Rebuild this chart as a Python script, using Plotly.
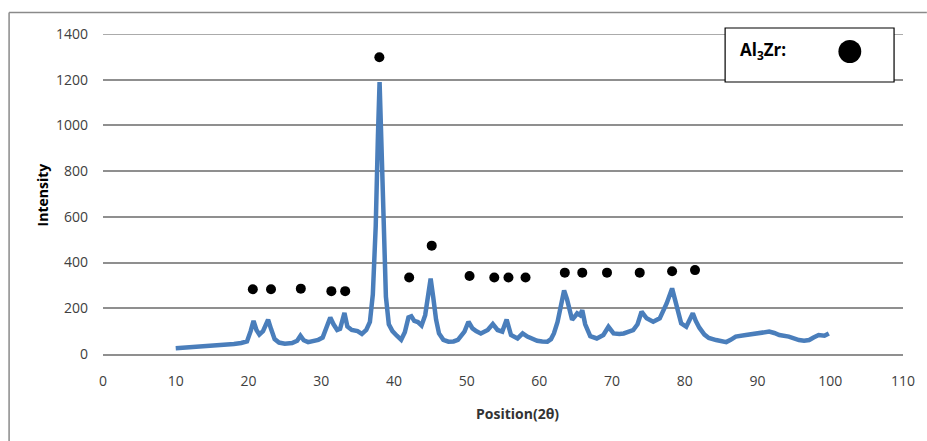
import plotly.graph_objects as go

# XRD pattern (2theta, intensity)
two_theta = [10.0, 11, 12, 13, 14, 15, 16, 17, 18, 19, 19.8, 20.3, 20.7, 21.1, 21.5, 22.0, 22.4, 22.7,
             23.1, 23.6, 24.2, 25.0, 26.0, 26.7, 27.15, 27.6, 28.2, 29.0, 29.6, 30.2, 30.8, 31.25,
             31.7, 32.2, 32.6, 33.2, 33.6, 34.2, 35.0, 35.6, 36.2, 36.7, 37.1, 37.5, 37.8, 38.03,
             38.3, 38.6, 38.9, 39.3, 39.8, 40.4, 41.0, 41.5, 42.0, 42.4, 42.8, 43.3, 43.8, 44.3,
             44.8, 45.05, 45.4, 45.8, 46.2, 46.8, 47.5, 48.2, 48.8, 49.7, 50.25, 50.8, 51.3, 51.95,
             52.9, 53.6, 54.25, 54.9, 55.5, 56.1, 57.0, 57.7, 58.35, 59.0, 59.7, 60.4, 61.1, 61.6,
             62.0, 62.5, 62.9, 63.4, 63.8, 64.1, 64.5, 64.9, 65.2, 65.6, 65.9, 66.3, 66.7, 67.0,
             67.9, 68.8, 69.5, 70.2, 71.0, 71.6, 72.3, 72.9, 73.5, 74.05, 74.75, 75.65, 76.55, 77.0,
             77.5, 78.25, 78.85, 79.5, 80.2, 80.7, 81.1, 81.5, 82.0, 82.7, 83.3, 84.3, 85.0, 85.7,
             86.3, 87.0, 88.4, 89.8, 90.7, 91.6, 92.3, 93.0, 94.3, 95.0, 95.7, 96.4, 97.1, 97.7,
             98.4, 99.2, 99.8]
intensity = [25, 27, 28, 30, 32, 34, 37, 40, 44, 48, 55, 100, 145, 105, 85, 100, 130, 150,
             110, 65, 50, 45, 48, 58, 80, 60, 52, 58, 62, 72, 120, 160,
             130, 105, 110, 180, 120, 105, 100, 88, 105, 140, 260, 560, 950, 1190,
             900, 520, 250, 130, 100, 80, 62, 95, 160, 165, 145, 140, 125, 170,
             280, 330, 250, 150, 90, 62, 54, 55, 62, 98, 141, 112, 100, 90,
             105, 131, 105, 98, 151, 83, 68, 90, 76, 65, 58, 55, 54, 65,
             90, 140, 192, 278, 240, 205, 150, 165, 178, 170, 192, 130, 95, 78,
             68, 83, 119, 90, 88, 90, 98, 105, 130, 185, 156, 141, 156, 185,
             221, 287, 221, 134, 119, 150, 178, 145, 115, 85, 70, 61, 55, 52,
             62, 76, 83, 90, 93, 98, 92, 83, 76, 68, 61, 58, 61, 72,
             83, 80, 90]

# Al3Zr peak markers
marker_x = [20.6, 23.1, 27.2, 31.4, 33.3, 38.0, 42.1, 45.2, 50.4, 53.8, 55.75, 58.1,
            63.5, 65.9, 69.3, 73.8, 78.25, 81.4]
marker_y = [283, 283, 286, 275, 275, 1298, 335, 474, 341, 335, 335, 335,
            356, 356, 356, 356, 362, 367]

x_ticks = list(range(0, 111, 10))
y_ticks = list(range(0, 1401, 200))

W, H = 927, 441
L, R, T, B = 103, 19, 34, 87
pw, ph = W - L - R, H - T - B

def px(xp):
    return (xp - L) / pw

def py(yp):
    return (H - B - yp) / ph

fig = go.Figure()
fig.add_trace(go.Scatter(x=two_theta, y=intensity, mode="lines",
                         line=dict(color="#4A7EBB", width=4.5), hoverinfo="skip",
                         showlegend=False))
fig.add_trace(go.Scatter(x=marker_x, y=marker_y, mode="markers",
                         marker=dict(color="black", size=10), showlegend=False))

grid = "#8f8f8f"
tickfont = dict(family="Open Sans", size=14, color="#404040")
fig.update_layout(
    width=W, height=H,
    margin=dict(l=L, r=R, t=T, b=B),
    paper_bgcolor="white", plot_bgcolor="white",
    xaxis=dict(range=[0, 110], tickvals=x_ticks, showgrid=False, zeroline=False,
               showline=True, linecolor=grid, linewidth=1.5, ticks="",
               tickfont=tickfont, ticklabelstandoff=13),
    yaxis=dict(range=[0, 1400], tickvals=y_ticks, showgrid=True, gridcolor=grid,
               gridwidth=1.5, zeroline=False, showline=False, ticks="",
               tickfont=tickfont, ticklabelstandoff=14),
    shapes=[
        # top gridline (edge gridline not drawn by plotly)
        dict(type="line", xref="paper", yref="y", x0=0, x1=1,
             y0=y_ticks[-1], y1=y_ticks[-1], line=dict(color=grid, width=1.5), layer="above"),
        # outer chart frame (top and left edges visible)
        dict(type="line", xref="paper", yref="paper", x0=px(8.5), x1=px(W + 5),
             y0=py(12.5), y1=py(12.5), line=dict(color="#8a8a8a", width=1.5)),
        dict(type="line", xref="paper", yref="paper", x0=px(8.5), x1=px(8.5),
             y0=py(12.5), y1=py(H + 5), line=dict(color="#8a8a8a", width=1.5)),
        # legend box
        dict(type="rect", xref="paper", yref="paper", x0=px(729), x1=px(899),
             y0=py(82), y1=py(28), fillcolor="white", line=dict(color="black", width=1.2),
             layer="above"),
        dict(type="circle", xref="paper", yref="paper", x0=px(843), x1=px(866),
             y0=py(63), y1=py(40), fillcolor="black", line=dict(color="black", width=0),
             layer="above"),
    ],
    annotations=[
        dict(text="<b>Al<sub>3</sub>Zr:</b>", xref="paper", yref="paper", x=px(742), y=py(50),
             xanchor="left", yanchor="middle", showarrow=False,
             font=dict(family="Open Sans", size=17, color="black")),
        dict(text="<b>Position(2θ)</b>", xref="paper", yref="paper", x=px(520), y=py(413),
             xanchor="center", yanchor="middle", showarrow=False,
             font=dict(family="Open Sans", size=14, color="#333333")),
        dict(text="<b>Intensity</b>", xref="paper", yref="paper", x=px(42), y=py(195),
             xanchor="center", yanchor="middle", showarrow=False, textangle=-90,
             font=dict(family="Open Sans", size=14, color="black")),
    ],
)

fig.write_html("out.html")
